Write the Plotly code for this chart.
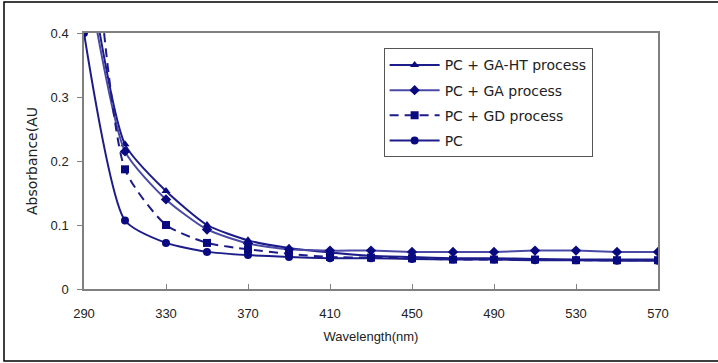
import plotly.graph_objects as go

wavelength = [290, 310, 330, 350, 370, 390, 410, 430, 450, 470, 490, 510, 530, 550, 570]

pc_ga_ht = [0.55, 0.226, 0.153, 0.100, 0.076, 0.064, 0.057, 0.052, 0.050, 0.048, 0.048, 0.047, 0.046, 0.046, 0.046]
pc_ga    = [0.52, 0.215, 0.140, 0.093, 0.071, 0.062, 0.060, 0.060, 0.058, 0.058, 0.058, 0.060, 0.060, 0.058, 0.058]
pc_gd    = [0.75, 0.187, 0.100, 0.072, 0.062, 0.055, 0.050, 0.049, 0.048, 0.046, 0.046, 0.046, 0.045, 0.045, 0.045]
pc       = [0.40, 0.107, 0.072, 0.058, 0.053, 0.050, 0.048, 0.048, 0.047, 0.046, 0.046, 0.045, 0.045, 0.044, 0.044]

series = [
    ("PC + GA-HT process", pc_ga_ht, "triangle-up", "solid", "#1c1c8a"),
    ("PC + GA process", pc_ga, "diamond", "solid", "#4a4aa6"),
    ("PC + GD process", pc_gd, "square", "9px,6px", "#1c1c8a"),
    ("PC", pc, "circle", "solid", "#1c1c8a"),
]

fig = go.Figure()
for i, (name, vals, sym, dash, col) in enumerate(series):
    fig.add_trace(go.Scatter(
        x=wavelength, y=vals, name=name, mode="lines+markers",
        line=dict(color=col, width=2, dash=dash, shape="spline", smoothing=0.6),
        marker=dict(symbol=sym, size=8, color="#0a0a80"),
        legendgroup=f"g{i}",
    ))

fig.update_layout(
    width=718, height=363,
    margin=dict(l=84, r=60, t=33, b=74),
    paper_bgcolor="white", plot_bgcolor="white",
    font=dict(family="Liberation Sans, Arial, sans-serif", size=13, color="#222222"),
    showlegend=True,
    legend=dict(
        x=0.522, y=0.94, xanchor="left", yanchor="top",
        bordercolor="#555555", borderwidth=1, bgcolor="white",
        font=dict(family="DejaVu Sans, sans-serif", size=14, color="#222222"),
        itemwidth=50, tracegroupgap=4,
    ),
    xaxis=dict(
        range=[290, 570], tickvals=[290, 330, 370, 410, 450, 490, 530, 570],
        showgrid=False, zeroline=False, showline=True, linecolor="#808080", linewidth=1.5,
        mirror=True, ticks="inside", ticklen=5, tickcolor="#808080",
        ticklabelstandoff=12,
        title=dict(text="Wavelength(nm)", standoff=12, font=dict(size=13)),
    ),
    yaxis=dict(
        range=[0, 0.4], tickvals=[0, 0.1, 0.2, 0.3, 0.4], ticktext=["0", "0.1", "0.2", "0.3", "0.4"],
        showgrid=False, zeroline=False, showline=True, linecolor="#808080", linewidth=1.5,
        mirror=True, ticks="outside", ticklen=5, tickcolor="#808080",
        ticklabelstandoff=6,
        title=dict(text="Absorbance(AU", standoff=10, font=dict(family="DejaVu Sans, sans-serif", size=14)),
    ),
    shapes=[dict(type="rect", xref="paper", yref="paper",
                 x0=-80/574, x1=656/574, y0=-72/256, y1=1+31/256,
                 line=dict(color="black", width=1.5), fillcolor="rgba(0,0,0,0)")],
)

fig.write_html("out.html")
